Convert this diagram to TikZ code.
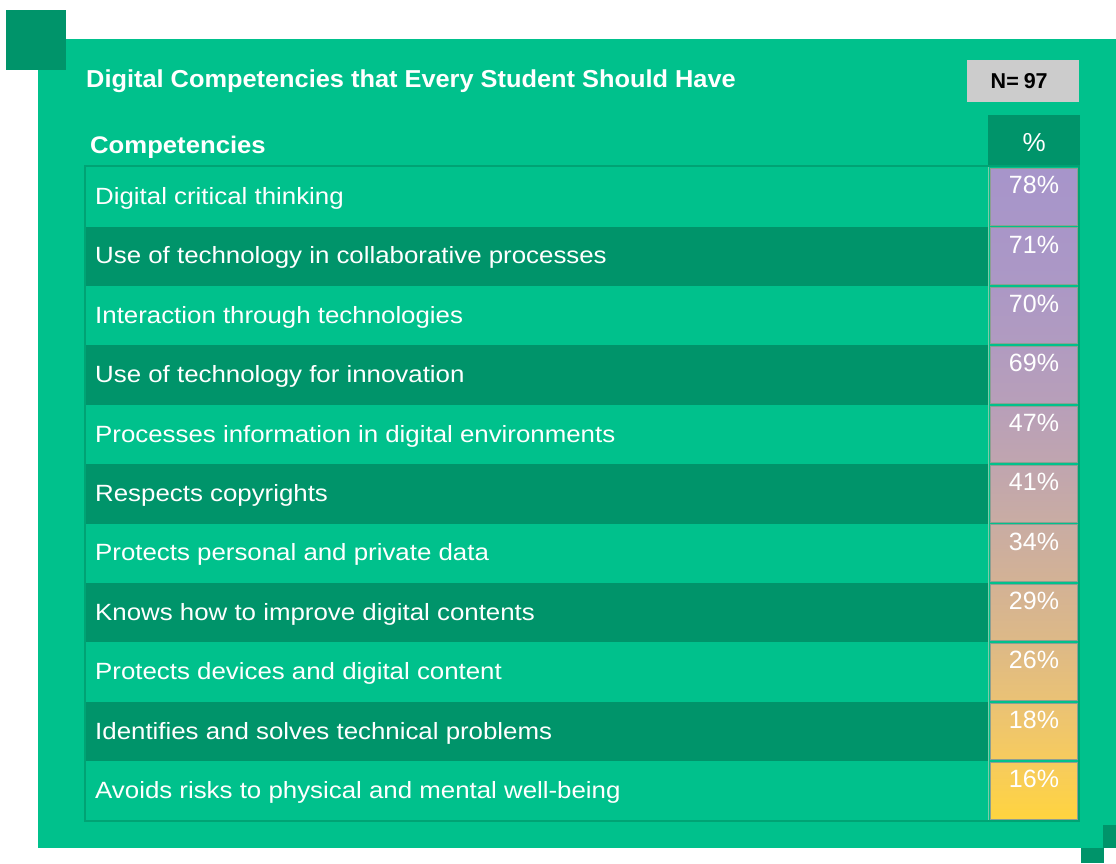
\documentclass[tikz,border=0pt]{standalone}
\usepackage{fontspec}
\setmainfont{Liberation Sans}
\newfontfamily\rowfont[FakeStretch=1.1]{Liberation Sans}
\newfontfamily\titlefont[FakeStretch=1.035]{Liberation Sans}
\newfontfamily\compfont[FakeStretch=1.07]{Liberation Sans}
\definecolor{bg}{HTML}{00C18C}
\definecolor{dk}{HTML}{00946A}
\definecolor{bd}{HTML}{00A374}
\definecolor{nbox}{HTML}{CCCCCC}
\definecolor{cellline}{HTML}{8E9E92}
\definecolor{sepline}{HTML}{7FCBA8}
\definecolor{pc0}{HTML}{A795CA}
\definecolor{pc1}{HTML}{A996C8}
\definecolor{pc2}{HTML}{AC98C5}
\definecolor{pc3}{HTML}{B19BC0}
\definecolor{pc4}{HTML}{B89FB9}
\definecolor{pc5}{HTML}{C0A5AF}
\definecolor{pc6}{HTML}{C9ACA3}
\definecolor{pc7}{HTML}{D3B295}
\definecolor{pc8}{HTML}{DDB987}
\definecolor{pc9}{HTML}{EAC275}
\definecolor{pc10}{HTML}{F6CB5E}
\definecolor{pc11}{HTML}{FFD43F}
\begin{document}
\begin{tikzpicture}[x=1pt,y=-1pt,
  rowcell/.style={rectangle, inner sep=0, anchor=north west, minimum width=903, minimum height=59.4},
  pcell/.style={rectangle, inner sep=0, draw=cellline, line width=0.8, minimum width=87, minimum height=56.5},
  rowlbl/.style={anchor=west, inner sep=0, text=white, font=\rowfont\fontsize{23.5}{28}\selectfont},
  pctxt/.style={anchor=north, inner sep=0, text=white, font=\fontsize{25}{30}\selectfont},
  hdr/.style={inner sep=0, text=white, font=\fontsize{22}{26}\selectfont\bfseries}]
\useasboundingbox (0,0) rectangle (1116,863);
\fill[white] (0,0) rectangle (1116,863);
% background panel
\fill[bg] (38,39) rectangle (1116,848);
\fill[dk] (6,10) rectangle (66,70);
\fill[dk] (1103,825) rectangle (1116,848);
\fill[dk] (1081,848) rectangle (1104,863);
% title
\node[hdr, anchor=west, font=\titlefont\fontsize{24.5}{29}\selectfont\bfseries] (title) at (86,81) {Digital Competencies that Every Student Should Have};
\node[rectangle, fill=nbox, inner sep=0, minimum width=112, minimum height=42, anchor=north west] (nbox) at (967,60) {};
\node[inner sep=0, font=\fontsize{21.5}{25}\selectfont\bfseries] (ntext) at ([xshift=-4]nbox.center) {N=\kern-1pt\ 97};
% header
\node[hdr, anchor=west, font=\compfont\fontsize{24}{28}\selectfont\bfseries] (comp) at (90,147) {Competencies};
\node[rectangle, fill=dk, inner sep=0, minimum width=92, minimum height=51, anchor=north west] (pcthead) at (988,115) {};
\node[hdr, font=\fontsize{26}{30}\selectfont] (pctsym) at ([yshift=-2]pcthead.center) {\%};
% rows
\foreach \i/\t/\p in {
  1/Digital critical thinking/78,
  2/Use of technology in collaborative processes/71,
  3/Interaction through technologies/70,
  4/Use of technology for innovation/69,
  5/Processes information in digital environments/47,
  6/Respects copyrights/41,
  7/Protects personal and private data/34,
  8/Knows how to improve digital contents/29,
  9/Protects devices and digital content/26,
  10/Identifies and solves technical problems/18,
  11/Avoids risks to physical and mental well-being/16} {
  \pgfmathsetmacro\yt{167+59.4*(\i-1)}
  \pgfmathsetmacro\ym{\yt+31.5}
  \pgfmathsetmacro\yc{\yt+29.7}
  \pgfmathtruncatemacro\j{\i-1}
  \ifodd\i
    \node[rowcell, fill=bg] (row\i) at (85,\yt) {};
  \else
    \node[rowcell, fill=dk] (row\i) at (85,\yt) {};
  \fi
  \node[rowlbl] (lbl\i) at (95,\ym) {\t};
  \node[pcell, top color=pc\j, bottom color=pc\i] (cell\i) at (1034,\yc) {};
  \node[pctxt] (val\i) at ([yshift=-8]cell\i.north) {\p\%};
}
% separators and border
\draw[sepline, line width=0.8] (row1.north east) -- (row11.south east);
\draw[bd, line width=2.5] (85,166) rectangle (1079,821);
\end{tikzpicture}
\end{document}
